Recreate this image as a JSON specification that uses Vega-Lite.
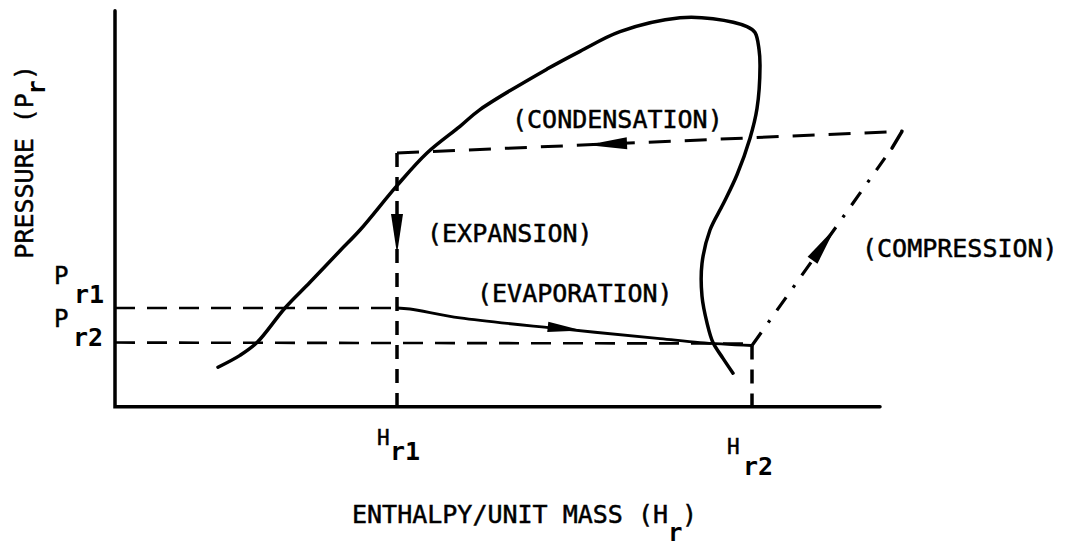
{
  "$schema": "https://vega.github.io/schema/vega-lite/v6.json",
  "width": 1068,
  "height": 546,
  "autosize": {"type": "fit", "contains": "padding"},
  "padding": 0,
  "background": "white",
  "config": {"view": {"stroke": null}},
  "datasets": {
    "frame": [{"h": 0, "p": 401, "i": 0}, {"h": 0, "p": 0, "i": 1}, {"h": 765, "p": 0, "i": 2}],
    "dome": [
      {"h": 103, "p": 40, "i": 0}, {"h": 125, "p": 52, "i": 1}, {"h": 142, "p": 65, "i": 2},
      {"h": 170, "p": 100, "i": 3}, {"h": 195, "p": 126, "i": 4}, {"h": 225, "p": 158, "i": 5},
      {"h": 245, "p": 179, "i": 6}, {"h": 282, "p": 224, "i": 7}, {"h": 312, "p": 257, "i": 8},
      {"h": 345, "p": 284, "i": 9}, {"h": 365, "p": 301, "i": 10}, {"h": 432, "p": 342, "i": 11},
      {"h": 465, "p": 360, "i": 12}, {"h": 505, "p": 380, "i": 13}, {"h": 565, "p": 394, "i": 14},
      {"h": 598, "p": 393, "i": 15}, {"h": 632, "p": 385, "i": 16}, {"h": 640, "p": 379, "i": 17},
      {"h": 644, "p": 362, "i": 18}, {"h": 645, "p": 345, "i": 19}, {"h": 642, "p": 302, "i": 20},
      {"h": 635, "p": 272, "i": 21}, {"h": 622, "p": 235, "i": 22}, {"h": 608, "p": 205, "i": 23},
      {"h": 595, "p": 179, "i": 24}, {"h": 587, "p": 145, "i": 25}, {"h": 587, "p": 112, "i": 26},
      {"h": 592, "p": 85, "i": 27}, {"h": 598, "p": 65, "i": 28}, {"h": 608, "p": 49, "i": 29},
      {"h": 618, "p": 34, "i": 30}
    ],
    "evap": [
      {"h": 282, "p": 100, "i": 0}, {"h": 295, "p": 99, "i": 1}, {"h": 345, "p": 90, "i": 2},
      {"h": 445, "p": 79, "i": 3}, {"h": 545, "p": 69, "i": 4}, {"h": 585, "p": 65, "i": 5},
      {"h": 637, "p": 62, "i": 6}
    ],
    "hook": [{"h": 787, "p": 279, "i": 0}, {"h": 777, "p": 262, "i": 1}],
    "plevels": [
      {"seg": "Pr1", "h": 0, "p": 100}, {"seg": "Pr1", "h": 282, "p": 100},
      {"seg": "Pr2", "h": 0, "p": 65}, {"seg": "Pr2", "h": 637, "p": 64}
    ],
    "hlevels": [
      {"seg": "Hr1", "h": 282, "p": 257}, {"seg": "Hr1", "h": 282, "p": 0},
      {"seg": "Hr2", "h": 637, "p": 62}, {"seg": "Hr2", "h": 637, "p": 0}
    ],
    "condensation": [{"h": 282, "p": 257, "i": 0}, {"h": 787, "p": 279, "i": 1}],
    "compression": [{"h": 637, "p": 62, "i": 0}, {"h": 770, "p": 252, "i": 1}],
    "arrows": [
      {"name": "expansion", "h": 282, "p": 175},
      {"name": "condensation", "h": 492, "p": 266},
      {"name": "evaporation", "h": 450, "p": 79},
      {"name": "compression", "h": 709, "p": 165}
    ],
    "bigtext": [
      {"label": "(CONDENSATION)", "h": 397, "p": 290},
      {"label": "(EXPANSION)", "h": 312, "p": 175},
      {"label": "(EVAPORATION)", "h": 362, "p": 114},
      {"label": "(COMPRESSION)", "h": 747, "p": 160}
    ],
    "titlex": [
      {"label": "ENTHALPY/UNIT MASS (H", "h": 237, "p": -118},
      {"label": ")", "h": 567, "p": -118}
    ],
    "titlexsub": [{"label": "r", "h": 553, "p": -136}],
    "titley": [
      {"label": "PRESSURE (P", "h": -82, "p": 150},
      {"label": ")", "h": -82, "p": 331}
    ],
    "titleysub": [{"label": "r", "h": -70, "p": 316}],
    "ticklabelp": [
      {"label": "P", "h": -61, "p": 124},
      {"label": "P", "h": -61, "p": 81}
    ],
    "ticklabelh": [
      {"label": "H", "h": 262, "p": -39},
      {"label": "H", "h": 612, "p": -48}
    ],
    "ticksub": [
      {"label": "r1", "h": -41, "p": 105},
      {"label": "r2", "h": -42, "p": 62},
      {"label": "r1", "h": 275, "p": -54},
      {"label": "r2", "h": 628, "p": -69}
    ]
  },
  "encoding": {
    "x": {"field": "h", "type": "quantitative", "scale": {"domain": [-115, 953], "nice": false, "zero": false}, "axis": null},
    "y": {"field": "p", "type": "quantitative", "scale": {"domain": [-134, 412], "nice": false, "zero": false}, "axis": null}
  },
  "layer": [
    {"data": {"name": "frame"}, "mark": {"type": "line", "color": "#000", "strokeWidth": 3.5, "strokeCap": "round"}, "encoding": {"order": {"field": "i"}}},
    {"data": {"name": "dome"}, "mark": {"type": "line", "color": "#000", "strokeWidth": 3.5, "interpolate": "catmull-rom", "strokeCap": "round"}, "encoding": {"order": {"field": "i"}}},
    {"data": {"name": "evap"}, "mark": {"type": "line", "color": "#000", "strokeWidth": 2.8, "interpolate": "catmull-rom"}, "encoding": {"order": {"field": "i"}}},
    {"data": {"name": "hook"}, "mark": {"type": "line", "color": "#000", "strokeWidth": 3.5, "strokeCap": "round"}, "encoding": {"order": {"field": "i"}}},
    {"data": {"name": "plevels"}, "mark": {"type": "line", "color": "#000", "strokeWidth": 2.6, "strokeDash": [20, 12]}, "encoding": {"detail": {"field": "seg"}}},
    {"data": {"name": "hlevels"}, "mark": {"type": "line", "color": "#000", "strokeWidth": 3.5, "strokeDash": [14, 10]}, "encoding": {"detail": {"field": "seg"}}},
    {"data": {"name": "condensation"}, "mark": {"type": "line", "color": "#000", "strokeWidth": 3, "strokeDash": [22, 14]}, "encoding": {"order": {"field": "i"}}},
    {"data": {"name": "compression"}, "mark": {"type": "line", "color": "#000", "strokeWidth": 3.2, "strokeDash": [16, 12, 3, 12]}, "encoding": {"order": {"field": "i"}}},
    {"data": {"name": "arrows"}, "transform": [{"filter": "datum.name === 'expansion'"}], "mark": {"type": "point", "shape": "M0,1L-0.3,-1L0.3,-1Z", "filled": true, "color": "#000", "opacity": 1, "size": 1600, "angle": 0}},
    {"data": {"name": "arrows"}, "transform": [{"filter": "datum.name === 'condensation'"}], "mark": {"type": "point", "shape": "M0,1L-0.3,-1L0.3,-1Z", "filled": true, "color": "#000", "opacity": 1, "size": 1600, "angle": 87.5}},
    {"data": {"name": "arrows"}, "transform": [{"filter": "datum.name === 'evaporation'"}], "mark": {"type": "point", "shape": "M0,1L-0.3,-1L0.3,-1Z", "filled": true, "color": "#000", "opacity": 1, "size": 1200, "angle": 276}},
    {"data": {"name": "arrows"}, "transform": [{"filter": "datum.name === 'compression'"}], "mark": {"type": "point", "shape": "M0,1L-0.3,-1L0.3,-1Z", "filled": true, "color": "#000", "opacity": 1, "size": 1600, "angle": 215}},
    {"data": {"name": "bigtext"}, "mark": {"type": "text", "font": "DejaVu Sans Mono", "fontSize": 25, "align": "left", "baseline": "middle", "color": "#000", "stroke": "#000", "strokeWidth": 0.5}, "encoding": {"text": {"field": "label"}}},
    {"data": {"name": "titlex"}, "mark": {"type": "text", "font": "DejaVu Sans Mono", "fontSize": 25, "align": "left", "baseline": "alphabetic", "color": "#000", "stroke": "#000", "strokeWidth": 0.5}, "encoding": {"text": {"field": "label"}}},
    {"data": {"name": "titlexsub"}, "mark": {"type": "text", "font": "DejaVu Sans Mono", "fontSize": 24, "fontWeight": "bold", "align": "left", "baseline": "alphabetic", "color": "#000"}, "encoding": {"text": {"field": "label"}}},
    {"data": {"name": "titley"}, "mark": {"type": "text", "font": "DejaVu Sans Mono", "fontSize": 25, "angle": 270, "align": "left", "baseline": "alphabetic", "color": "#000", "stroke": "#000", "strokeWidth": 0.5}, "encoding": {"text": {"field": "label"}}},
    {"data": {"name": "titleysub"}, "mark": {"type": "text", "font": "DejaVu Sans Mono", "fontSize": 24, "fontWeight": "bold", "angle": 270, "align": "left", "baseline": "alphabetic", "color": "#000"}, "encoding": {"text": {"field": "label"}}},
    {"data": {"name": "ticklabelp"}, "mark": {"type": "text", "font": "DejaVu Sans Mono", "fontSize": 24, "align": "left", "baseline": "alphabetic", "color": "#000", "stroke": "#000", "strokeWidth": 0.5}, "encoding": {"text": {"field": "label"}}},
    {"data": {"name": "ticklabelh"}, "mark": {"type": "text", "font": "DejaVu Sans Mono", "fontSize": 21, "align": "left", "baseline": "alphabetic", "color": "#000", "stroke": "#000", "strokeWidth": 0.5}, "encoding": {"text": {"field": "label"}}},
    {"data": {"name": "ticksub"}, "mark": {"type": "text", "font": "DejaVu Sans Mono", "fontSize": 25, "fontWeight": "bold", "align": "left", "baseline": "alphabetic", "color": "#000"}, "encoding": {"text": {"field": "label"}}}
  ]
}
